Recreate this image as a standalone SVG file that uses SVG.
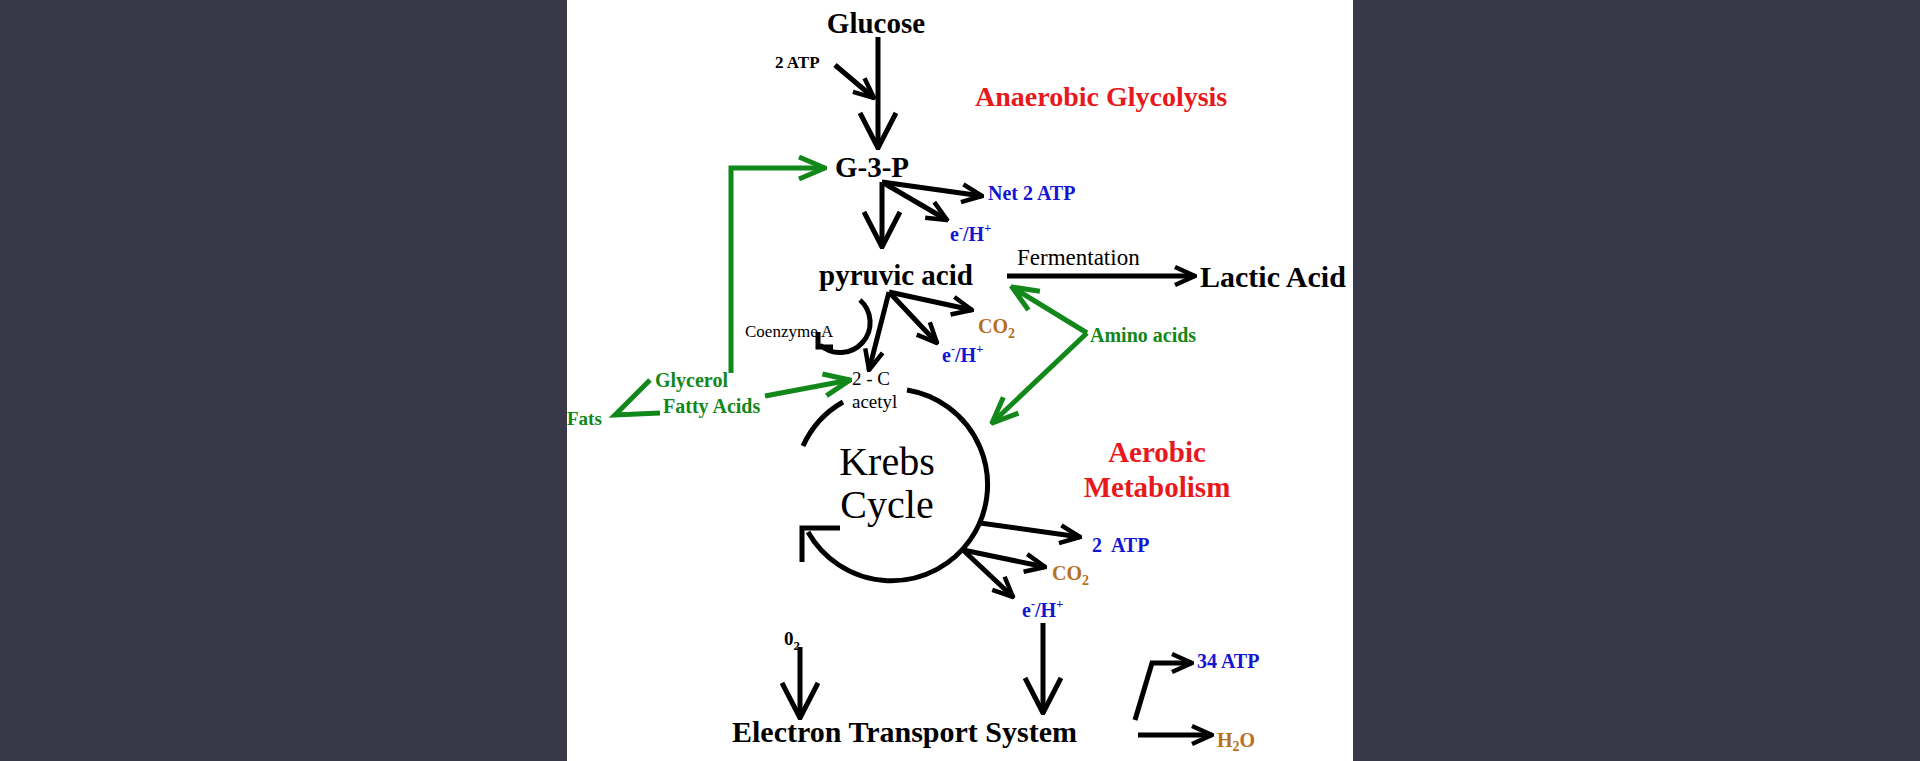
<svg xmlns="http://www.w3.org/2000/svg" width="1920" height="761" viewBox="0 0 1920 761">
<defs>
<style>
.b{font-family:"Liberation Serif",serif;font-weight:bold}
.r{font-family:"Liberation Serif",serif}
.k{fill:#000}.red{fill:#e8191c}.blu{fill:#1414d2}.org{fill:#b8701e}.grn{fill:#12871a}
.ln{fill:none;stroke:#000;stroke-width:5}
.g{fill:none;stroke:#12871a;stroke-width:5}
</style>
<marker id="a" viewBox="0 0 24 24" refX="22" refY="12" markerWidth="24" markerHeight="24" markerUnits="userSpaceOnUse" orient="auto"><path d="M2,3 L22,12 L2,21" fill="none" stroke="#000" stroke-width="4.5"/></marker>
<marker id="A" viewBox="0 0 40 40" refX="38" refY="20" markerWidth="40" markerHeight="40" markerUnits="userSpaceOnUse" orient="auto"><path d="M3,2 L38,20 L3,38" fill="none" stroke="#000" stroke-width="5"/></marker>
<marker id="ag" viewBox="0 0 30 30" refX="28" refY="15" markerWidth="30" markerHeight="30" markerUnits="userSpaceOnUse" orient="auto"><path d="M2,4 L28,15 L2,26" fill="none" stroke="#12871a" stroke-width="5"/></marker>
</defs>
<rect width="1920" height="761" fill="#383848"/>
<rect x="567" y="0" width="786" height="761" fill="#fff"/>

<g id="connectors">
<path class="ln" d="M878,37 L878,148" marker-end="url(#A)"/>
<path class="ln" d="M835,65 L874,98" marker-end="url(#a)"/>
<path class="ln" d="M882,182 L882,247" marker-end="url(#A)"/>
<path class="ln" d="M882,182 L982,196" marker-end="url(#a)"/>
<path class="ln" d="M882,182 L947,220" marker-end="url(#a)"/>
<path class="ln" d="M1007,276 L1195,276" marker-end="url(#a)"/>
<path class="ln" d="M889,292 L869,370" marker-end="url(#a)"/>
<path class="ln" d="M889,292 L972,310" marker-end="url(#a)"/>
<path class="ln" d="M889,292 L937,343" marker-end="url(#a)"/>
<path class="ln" d="M860,300 A30 30 0 1 1 820,345" />
<path class="ln" d="M818,332 L818,347 L833,347"/>
<path class="ln" d="M803,446 A96 96 0 0 1 843,402"/>
<path class="ln" d="M907,390 A96 96 0 1 1 808,532"/>
<path class="ln" d="M840,528 L802,528 L802,562"/>
<path class="ln" d="M980,523 L1080,537" marker-end="url(#a)"/>
<path class="ln" d="M963,550 L1045,567" marker-end="url(#a)"/>
<path class="ln" d="M963,550 L1013,597" marker-end="url(#a)"/>
<path class="ln" d="M1043,623 L1043,713" marker-end="url(#A)"/>
<path class="ln" d="M800,647 L800,718" marker-end="url(#A)"/>
<path class="ln" d="M1135,720 L1152,663 L1192,663" marker-end="url(#a)"/>
<path class="ln" d="M1138,735 L1212,735" marker-end="url(#a)"/>
<path class="g" d="M731,373 L731,168 L825,168" marker-end="url(#ag)"/>
<path class="g" d="M650,380 L615,415 L660,413"/>
<path class="g" d="M765,396 L850,380" marker-end="url(#ag)"/>
<path class="g" d="M1087,333 L1012,287" marker-end="url(#ag)"/>
<path class="g" d="M1087,333 L992,423" marker-end="url(#ag)"/>
</g>

<g id="glucose"><text class="b k" x="876" y="33" font-size="29" text-anchor="middle">Glucose</text></g>
<g id="atp-in"><text class="b k" x="775" y="68" font-size="17">2 ATP</text></g>
<g id="g3p"><text class="b k" x="835" y="177" font-size="29">G-3-P</text></g>
<g id="net2atp"><text class="b blu" x="988" y="200" font-size="20">Net 2 ATP</text></g>
<g id="eh1"><text class="b blu" x="950" y="241" font-size="20">e<tspan font-size="12" dy="-9">-</tspan><tspan dy="9">/H</tspan><tspan font-size="13" dy="-9">+</tspan></text></g>
<g id="anaerobic"><text class="b red" x="975" y="106" font-size="28">Anaerobic Glycolysis</text></g>
<g id="pyruvic"><text class="b k" x="819" y="285" font-size="29">pyruvic acid</text></g>
<g id="fermentation"><text class="r k" x="1017" y="265" font-size="23">Fermentation</text></g>
<g id="lactic"><text class="r k" x="1200" y="287" font-size="30" font-weight="600">Lactic Acid</text></g>
<g id="co2a"><text class="b org" x="978" y="333" font-size="20">CO<tspan font-size="14" dy="5">2</tspan></text></g>
<g id="eh2"><text class="b blu" x="942" y="362" font-size="20">e<tspan font-size="12" dy="-9">-</tspan><tspan dy="9">/H</tspan><tspan font-size="13" dy="-9">+</tspan></text></g>
<g id="coenzyme"><text class="r k" x="745" y="337" font-size="17">Coenzyme A</text></g>
<g id="amino"><text class="b grn" x="1090" y="342" font-size="20">Amino acids</text></g>
<g id="fats"><text class="b grn" x="567" y="425" font-size="19">Fats</text></g>
<g id="glycerol"><text class="b grn" x="655" y="387" font-size="20">Glycerol</text></g>
<g id="fatty"><text class="b grn" x="663" y="413" font-size="20">Fatty Acids</text></g>
<g id="acetyl"><text class="r k" x="852" y="385" font-size="19">2 - C</text><text class="r k" x="852" y="408" font-size="19">acetyl</text></g>
<g id="krebs"><text class="r k" x="887" y="475" font-size="40" text-anchor="middle">Krebs</text><text class="r k" x="887" y="518" font-size="40" text-anchor="middle">Cycle</text></g>
<g id="aerobic"><text class="b red" x="1157" y="462" font-size="29" text-anchor="middle">Aerobic</text><text class="b red" x="1157" y="497" font-size="29" text-anchor="middle">Metabolism</text></g>
<g id="atp2"><text class="b blu" x="1092" y="552" font-size="20" xml:space="preserve">2  ATP</text></g>
<g id="co2b"><text class="b org" x="1052" y="580" font-size="20">CO<tspan font-size="14" dy="5">2</tspan></text></g>
<g id="eh3"><text class="b blu" x="1022" y="617" font-size="20">e<tspan font-size="12" dy="-9">-</tspan><tspan dy="9">/H</tspan><tspan font-size="13" dy="-9">+</tspan></text></g>
<g id="o2"><text class="b k" x="784" y="645" font-size="19">0<tspan font-size="13" dy="5">2</tspan></text></g>
<g id="ets"><text class="b k" x="732" y="742" font-size="30">Electron Transport System</text></g>
<g id="atp34"><text class="b blu" x="1197" y="668" font-size="20">34 ATP</text></g>
<g id="h2o"><text class="b org" x="1217" y="747" font-size="20">H<tspan font-size="14" dy="4">2</tspan><tspan dy="-4">O</tspan></text></g>
</svg>
